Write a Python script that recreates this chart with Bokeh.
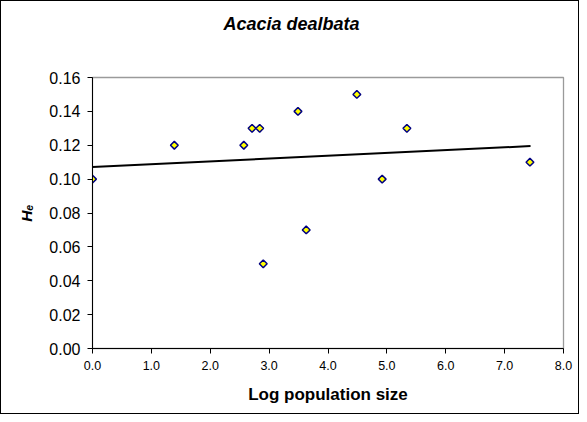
import numpy as np
from bokeh.plotting import figure
from bokeh.models import Range1d, FixedTicker, NumeralTickFormatter, Title
from bokeh.embed import file_html
from bokeh.resources import INLINE

# ---- data ----
log_size = [0.0, 1.39, 2.57, 2.71, 2.84, 2.90, 3.49, 3.63, 4.49, 4.92, 5.34, 7.43]
he = [0.10, 0.12, 0.12, 0.13, 0.13, 0.05, 0.14, 0.07, 0.15, 0.10, 0.13, 0.11]
trend_x = [0.0, 7.44]
trend_y = [0.1072, 0.1195]
x_ticks = [0, 1, 2, 3, 4, 5, 6, 7, 8]
y_ticks = [0.0, 0.02, 0.04, 0.06, 0.08, 0.10, 0.12, 0.14, 0.16]
title_text = "Acacia dealbata"
x_label = "Log population size"
y_label = "H\u2091"  # H with subscript e

FONT = "Liberation Sans"
W, H = 579, 414
FL, FR, FT, FB = 92, 16, 77, 66  # frame borders

p = figure(width=W, height=H, output_backend="svg", toolbar_location=None,
           x_range=Range1d(0, 8), y_range=Range1d(0, 0.16),
           min_border_left=FL, min_border_right=FR, min_border_top=FT,
           min_border_bottom=FB)
p.title = Title(text=title_text, align="left", offset=131, standoff=19,
                text_font=FONT, text_font_size="18px",
                text_font_style="bold italic", text_color="black")
# spacer panel between the title and the plot frame
p.add_layout(Title(text=" ", text_font_size="10px", standoff=21), "above")

p.xgrid.visible = False
p.ygrid.visible = False
p.background_fill_color = "white"
p.border_fill_color = None
p.outline_line_color = "#9a9a9a"
p.outline_line_width = 1.3
p.styles = {"outline": "1px solid black", "outline-offset": "-1px"}

for ax in (p.xaxis[0], p.yaxis[0]):
    ax.axis_line_color = "black"
    ax.axis_line_width = 1
    ax.major_tick_line_color = "black"
    ax.major_tick_in = 0
    ax.major_tick_out = 5
    ax.minor_tick_line_color = None
    ax.major_label_text_font = FONT
    ax.major_label_text_color = "black"
    ax.axis_label_text_font = FONT
    ax.axis_label_text_color = "black"

p.xaxis.ticker = FixedTicker(ticks=x_ticks)
p.xaxis.formatter = NumeralTickFormatter(format="0.0")
p.xaxis.major_label_text_font_size = "12.5px"
p.xaxis.major_label_standoff = 7
p.xaxis.axis_label = x_label
p.xaxis.axis_label_text_font_size = "17px"
p.xaxis.axis_label_text_font_style = "bold"
p.xaxis.axis_label_standoff = 12

p.yaxis.ticker = FixedTicker(ticks=y_ticks)
p.yaxis.formatter = NumeralTickFormatter(format="0.00")
p.yaxis.major_label_text_font_size = "16px"
p.yaxis.major_label_standoff = 7
p.yaxis.axis_label = y_label
p.yaxis.axis_label_text_font_size = "15.5px"
p.yaxis.axis_label_text_font_style = "bold italic"
p.yaxis.axis_label_standoff = 11

p.line(trend_x, trend_y, line_color="black", line_width=2)
p.scatter(log_size, he, marker="square", angle=np.pi / 4, size=5.5,
          fill_color="#ffff00", line_color="#000080", line_width=1.5)

open("out.html", "w").write(file_html(p, INLINE))
